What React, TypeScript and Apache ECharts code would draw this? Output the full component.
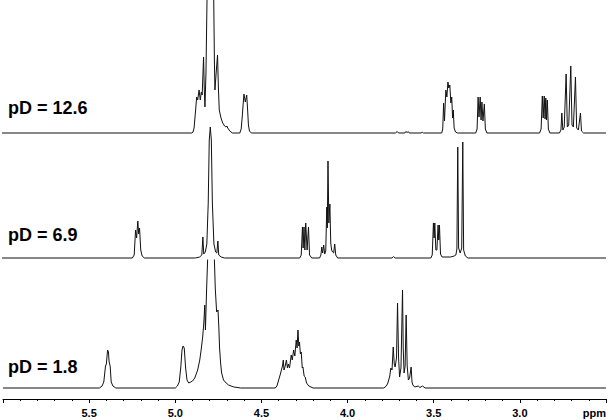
import React, { useEffect, useRef } from "react";
import * as echarts from "echarts";

// 1H NMR spectra: [chemical shift (ppm), intensity above baseline]
const spectrumPD126: number[][] = [
  [6.0, 0], [4.9, 0], [4.893, 1], [4.887, 5], [4.878, 23], [4.872, 36], [4.866, 33], [4.858, 43],
  [4.851, 33], [4.845, 41], [4.840, 38], [4.832, 76], [4.828, 45], [4.824, 26], [4.818, 60],
  [4.812, 133], [4.792, 260], [4.773, 133], [4.769, 70], [4.766, 43], [4.760, 58], [4.751, 78],
  [4.746, 45], [4.741, 23], [4.731, 15], [4.721, 10], [4.710, 7], [4.702, 6], [4.697, 7],
  [4.692, 5], [4.680, 2], [4.665, 0],
  [4.622, 0], [4.614, 4], [4.608, 16], [4.603, 28], [4.598, 39], [4.590, 31], [4.582, 38],
  [4.577, 24], [4.572, 8], [4.566, 2], [4.555, 0],
  [3.72, 0], [3.710, 1.5], [3.702, 0], [3.665, 0], [3.660, 1.5], [3.652, 0.5], [3.646, 1.5],
  [3.640, 0], [3.570, 0], [3.565, 1], [3.558, 0],
  [3.452, 0], [3.446, 4], [3.441, 30], [3.436, 12], [3.428, 43], [3.422, 36], [3.416, 51],
  [3.411, 45], [3.405, 48], [3.399, 30], [3.394, 36], [3.389, 15], [3.385, 23], [3.380, 5],
  [3.372, 1], [3.36, 0],
  [3.255, 0], [3.247, 4], [3.241, 36], [3.236, 16], [3.229, 36], [3.224, 13], [3.219, 31],
  [3.213, 12], [3.205, 29], [3.199, 4], [3.190, 0],
  [2.885, 0], [2.876, 4], [2.869, 37], [2.864, 15], [2.858, 37], [2.853, 14], [2.849, 35],
  [2.845, 13], [2.840, 33], [2.834, 4], [2.825, 0],
  [2.770, 0], [2.761, 3], [2.756, 20], [2.750, 3], [2.742, 6], [2.731, 59], [2.724, 6],
  [2.716, 8], [2.704, 67], [2.697, 8], [2.689, 6], [2.677, 56], [2.670, 5], [2.660, 3],
  [2.648, 20], [2.642, 2], [2.630, 0], [2.5, 0],
];

const spectrumPD69: number[][] = [
  [6.0, 0], [5.245, 0], [5.234, 3], [5.226, 28], [5.220, 20], [5.213, 37], [5.208, 24],
  [5.203, 30], [5.196, 8], [5.188, 2], [5.175, 0],
  [4.880, 0], [4.855, 1], [4.842, 3], [4.836, 21], [4.831, 4], [4.822, 6], [4.813, 14],
  [4.805, 55], [4.799, 118], [4.793, 131], [4.787, 118], [4.781, 55], [4.772, 14],
  [4.762, 6], [4.755, 5], [4.749, 17], [4.744, 3], [4.730, 1], [4.710, 0],
  [4.275, 0], [4.266, 3], [4.259, 31], [4.255, 10], [4.250, 31], [4.245, 8], [4.240, 35],
  [4.232, 8], [4.224, 31], [4.218, 3], [4.205, 0],
  [4.160, 0], [4.152, 3], [4.147, 11], [4.142, 5], [4.136, 13], [4.130, 4], [4.124, 7],
  [4.118, 51], [4.115, 30], [4.111, 97], [4.106, 35], [4.100, 54], [4.095, 15], [4.090, 8],
  [4.084, 6], [4.078, 5], [4.072, 14], [4.066, 3], [4.055, 0],
  [3.740, 0], [3.731, 1.5], [3.722, 0],
  [3.515, 0], [3.507, 3], [3.500, 35], [3.496, 20], [3.492, 35], [3.486, 8], [3.480, 8],
  [3.473, 33], [3.469, 18], [3.465, 33], [3.459, 4], [3.450, 1], [3.400, 1],
  [3.380, 2], [3.370, 3], [3.364, 9], [3.359, 111], [3.354, 10], [3.345, 5], [3.336, 10],
  [3.330, 116], [3.325, 8], [3.315, 2], [3.300, 0], [2.5, 0],
];

const spectrumPD18: number[][] = [
  [6.0, 0], [5.440, 0], [5.425, 2], [5.415, 6], [5.405, 22], [5.400, 24], [5.393, 38],
  [5.388, 36], [5.384, 26], [5.378, 22], [5.372, 6], [5.362, 2], [5.345, 0],
  [5.000, 0], [4.988, 2], [4.977, 6], [4.968, 21], [4.961, 38], [4.955, 42], [4.948, 40],
  [4.940, 20], [4.932, 8], [4.922, 5], [4.910, 6], [4.900, 7], [4.887, 10], [4.870, 18],
  [4.858, 28], [4.850, 38], [4.841, 51], [4.834, 66], [4.829, 83], [4.825, 58],
  [4.818, 100], [4.810, 140], [4.792, 200], [4.775, 140], [4.768, 100], [4.760, 76],
  [4.752, 78], [4.747, 60], [4.743, 40], [4.737, 25], [4.731, 15], [4.720, 8], [4.705, 5],
  [4.691, 3], [4.660, 1], [4.620, 0],
  [4.420, 0], [4.410, 2], [4.400, 8], [4.390, 14], [4.378, 22], [4.373, 28], [4.369, 18],
  [4.362, 22], [4.355, 28], [4.349, 20], [4.344, 24], [4.337, 20], [4.327, 33], [4.321, 28],
  [4.313, 38], [4.306, 32], [4.298, 48], [4.293, 40], [4.288, 58], [4.283, 42], [4.279, 46],
  [4.274, 34], [4.269, 36], [4.263, 20], [4.259, 21], [4.252, 12], [4.246, 11], [4.238, 5],
  [4.225, 2], [4.200, 0],
  [3.790, 0], [3.775, 2], [3.766, 5], [3.755, 12], [3.749, 20], [3.742, 18], [3.735, 41],
  [3.729, 24], [3.724, 21], [3.716, 30], [3.710, 85], [3.704, 30], [3.698, 11], [3.690, 20],
  [3.681, 98], [3.677, 40], [3.672, 15], [3.666, 22], [3.660, 73], [3.654, 22], [3.647, 8],
  [3.640, 10], [3.631, 21], [3.626, 6], [3.621, 3], [3.610, 1], [3.590, 2], [3.580, 0.5],
  [3.565, 2], [3.550, 0], [2.5, 0],
];

const spectrumLabels = ["pD = 12.6", "pD = 6.9", "pD = 1.8"];
const ppmMin = 2.5;
const ppmMax = 6.0;
const ppmStep = 0.5;

export default function App() {
  const ref = useRef<HTMLDivElement>(null);
  useEffect(() => {
    if (!ref.current) return;
    const chart = echarts.init(ref.current, undefined, { renderer: "svg" });
    const font = '"Liberation Sans", Arial, Helvetica, sans-serif';
    const baseX = {
      type: "value" as const,
      min: ppmMin,
      max: ppmMax,
      inverse: true,
      interval: ppmStep,
    };
    const lineStyle = { color: "#111", width: 1 };
    chart.setOption({
      animation: false,
      backgroundColor: "#fff",
      grid: [
        { left: 2, right: 4, top: 0, height: 135 },
        { left: 2, right: 4, top: 0, height: 260 },
        { left: 2, right: 4, top: 260, height: 139 },
      ],
      xAxis: [
        { ...baseX, gridIndex: 0, show: false },
        { ...baseX, gridIndex: 1, show: false },
        {
          ...baseX,
          gridIndex: 2,
          position: "bottom",
          axisLine: { show: true, onZero: false, lineStyle: { color: "#000", width: 1 } },
          axisTick: { show: true, inside: false, length: 4, lineStyle: { color: "#000" } },
          minorTick: { show: true, splitNumber: 5, length: 2, lineStyle: { color: "#000" } },
          splitLine: { show: false },
          minorSplitLine: { show: false },
          axisLabel: {
            color: "#000",
            fontSize: 11,
            fontWeight: "bold",
            fontFamily: font,
            margin: 8,
            showMinLabel: true,
            showMaxLabel: true,
            alignMinLabel: "right",
            formatter: (v: number) =>
              Math.abs(v - ppmMin) < 1e-6 ? "ppm" : Math.abs(v - ppmMax) < 1e-6 ? "" : v.toFixed(1),
          },
        },
      ],
      yAxis: [
        { type: "value", gridIndex: 0, min: -2, max: 133, show: false },
        { type: "value", gridIndex: 1, min: -2, max: 258, show: false },
        { type: "value", gridIndex: 2, min: -11, max: 128, show: false },
      ],
      series: [spectrumPD126, spectrumPD69, spectrumPD18].map((d, i) => ({
        type: "line",
        xAxisIndex: i,
        yAxisIndex: i,
        data: d,
        showSymbol: false,
        symbol: "none",
        lineStyle,
        clip: true,
        silent: true,
      })),
      graphic: [
        { x: 8, y: 108 },
        { x: 8, y: 235 },
        { x: 8, y: 367 },
      ].map((p, i) => ({
        type: "text",
        x: p.x,
        y: p.y,
        style: {
          text: spectrumLabels[i],
          font: `bold 18px ${font}`,
          fill: "#000",
          verticalAlign: "middle",
          align: "left",
        },
      })),
    });
    return () => chart.dispose();
  }, []);
  return (
    <div
      ref={ref}
      style={{ position: "fixed", left: 0, top: 0, width: 610, height: 420 }}
    />
  );
}
